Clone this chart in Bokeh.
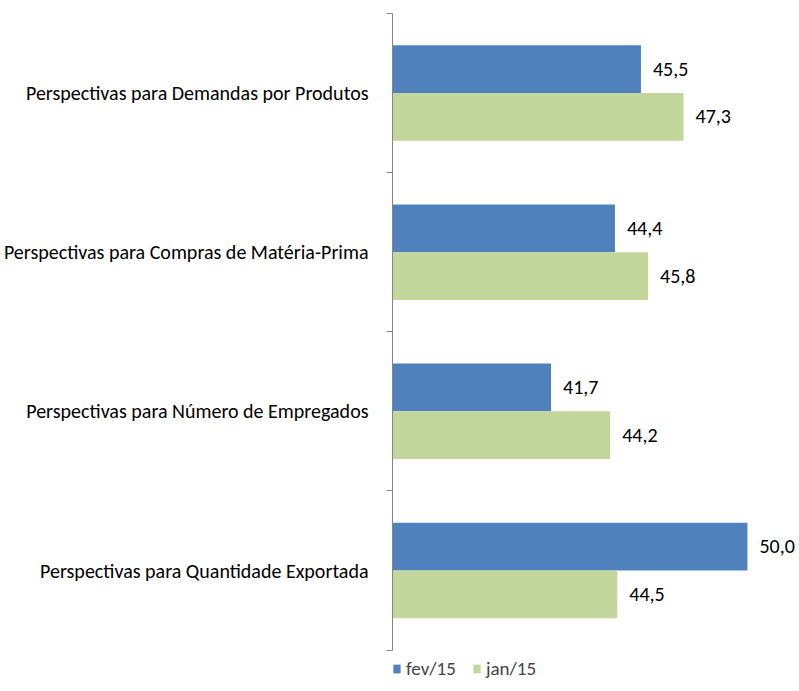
from bokeh.plotting import figure
from bokeh.models import ColumnDataSource, FixedTicker, Legend, LegendItem, Range1d
from bokeh.transform import dodge
from bokeh.core.properties import value
from bokeh.embed import file_html
from bokeh.resources import INLINE

categories = [
    "Perspectivas para Demandas por Produtos",
    "Perspectivas para Compras de Matéria-Prima",
    "Perspectivas para Número de Empregados",
    "Perspectivas para Quantidade Exportada",
]
fev15 = [45.5, 44.4, 41.7, 50.0]
jan15 = [47.3, 45.8, 44.2, 44.5]

FONT = "Carlito, Lato, sans-serif"
BLUE = "#4F81BD"
GREEN = "#C3D69B"

n = len(categories)
ypos = [n - i - 0.5 for i in range(n)]
src = ColumnDataSource(dict(
    y=ypos, cat=categories, fev=fev15, jan=jan15,
    fev_lbl=[f"{v:.1f}".replace(".", ",") for v in fev15],
    jan_lbl=[f"{v:.1f}".replace(".", ",") for v in jan15],
))

p = figure(width=799, height=683, output_backend="svg", toolbar_location=None,
           x_range=Range1d(35, 52.2), y_range=Range1d(-0.21, n),
           min_border_left=391, min_border_right=0, min_border_top=13, min_border_bottom=0)
p.outline_line_color = None
p.grid.visible = False
p.xaxis.visible = False

r1 = p.hbar(y=dodge("y", 0.15, range=p.y_range), left=35, right="fev", height=0.3,
            source=src, fill_color=BLUE, line_color=None)
r2 = p.hbar(y=dodge("y", -0.15, range=p.y_range), left=35, right="jan", height=0.3,
            source=src, fill_color=GREEN, line_color=None)

p.text(x="fev", y=dodge("y", 0.15, range=p.y_range), text="fev_lbl", source=src,
       x_offset=12, text_baseline="middle", text_align="left",
       text_font=value(FONT), text_font_size="20px", text_color="#000000")
p.text(x="jan", y=dodge("y", -0.15, range=p.y_range), text="jan_lbl", source=src,
       x_offset=12, text_baseline="middle", text_align="left",
       text_font=value(FONT), text_font_size="20px", text_color="#000000")

ax = p.yaxis[0]
ax.bounds = (0, n)
ax.ticker = FixedTicker(ticks=ypos, minor_ticks=list(range(n + 1)))
ax.major_label_overrides = {y: c for y, c in zip(ypos, categories)}
ax.major_tick_out = 0
ax.major_tick_in = 0
ax.minor_tick_out = 6
ax.minor_tick_in = 0
ax.minor_tick_line_color = "#868686"
ax.axis_line_color = "#868686"
ax.major_label_standoff = 18
ax.major_label_text_font = FONT
ax.major_label_text_font_size = "20px"
ax.major_label_text_color = "#000000"

legend = Legend(items=[LegendItem(label="fev/15", renderers=[r1]),
                       LegendItem(label="jan/15", renderers=[r2])],
                orientation="horizontal", location=(0, 3),
                label_text_font=FONT, label_text_font_size="19px",
                glyph_width=9, glyph_height=11, label_standoff=5, spacing=16,
                padding=0, margin=0, border_line_color=None, background_fill_alpha=0)
p.add_layout(legend, "center")

open("out.html", "w").write(file_html(p, INLINE))
